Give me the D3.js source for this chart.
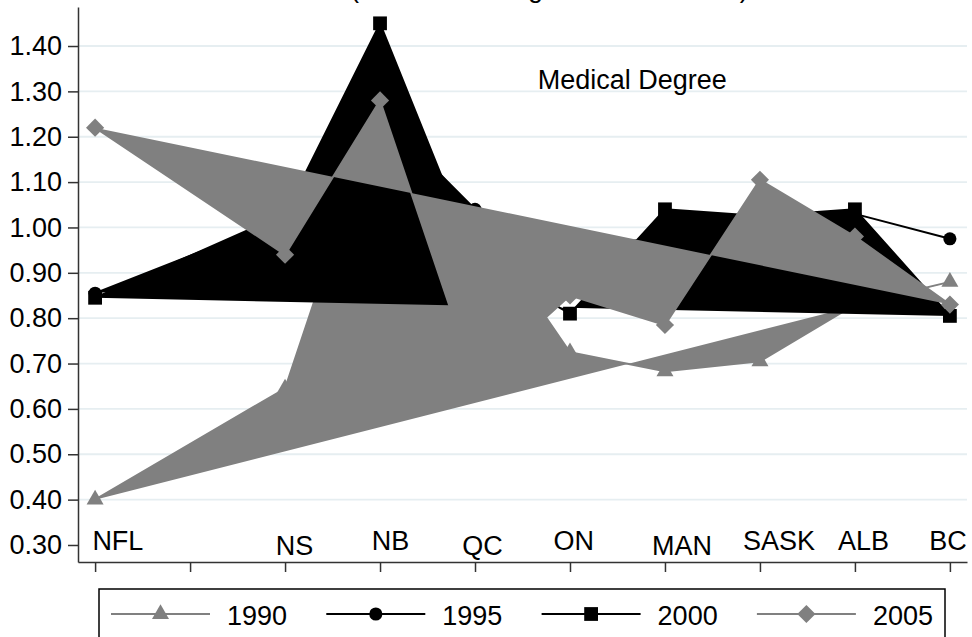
<!DOCTYPE html>
<html>
<head>
<meta charset="utf-8">
<script src="https://cdn.jsdelivr.net/npm/d3@7"></script>
<style>
  body { margin: 0; background: #fff; }
  svg text { font-family: "Liberation Sans", Arial, sans-serif; fill: #000; }
  .axis path, .axis line { stroke: #333; stroke-width: 1.5; }
  .axis text { font-size: 27px; }
  .grid line { stroke: #e6eef1; stroke-width: 1.8; }
</style>
</head>
<body>
<div id="chart"></div>
<script>
// provinces and their slot on the x axis (slot 2 is empty)
var provinces = ["NFL", "NS", "NB", "QC", "ON", "MAN", "SASK", "ALB", "BC"];
var provPos = [1, 3, 4, 5, 6, 7, 8, 9, 10];

// ratios (null = missing)
var v1990 = [0.40, 0.645, 1.27, 1.03, 0.725, 0.683, 0.705, 0.83, 0.88];
var v1995 = [0.855, 1.02, 1.25, 1.04, 0.86, 0.98, null, 1.03, 0.975];
var v2000 = [0.845, 1.03, 1.45, 0.93, 0.81, 1.04, 1.025, 1.04, 0.805];
var v2005 = [1.22, 0.94, 1.28, 0.66, 0.85, 0.785, 1.105, 0.98, 0.83];

var years = ["1990", "1995", "2000", "2005"];
var yTicks = [0.30, 0.40, 0.50, 0.60, 0.70, 0.80, 0.90, 1.00, 1.10, 1.20, 1.30, 1.40];
var xTicks = [1, 2, 3, 4, 5, 6, 7, 8, 9, 10];

// province names are written inside the plot, like text() annotations
var labelX = [1.24, 3.10, 4.11, 5.08, 6.04, 7.18, 8.20, 9.09, 9.98];
var labelY = [0.289, 0.278, 0.289, 0.278, 0.289, 0.278, 0.289, 0.289, 0.289];

var noteText = "Medical Degree";
var noteX = 5.66, noteY = 1.305;
var titleText = "(Ratio of Average to the National)";

var width = 972, height = 637;
var plot = {left: 78, right: 967, top: 7, bottom: 562};

var x = d3.scaleLinear()
    .domain([0.82, 10.18])
    .range([plot.left, plot.right]);

var y = d3.scaleLinear()
    .domain([0.2625, 1.486])
    .range([plot.bottom, plot.top]);

var gray = "#808080";
var seriesList = [
    {name: years[0], values: v1990, color: gray, shape: "triangle"},
    {name: years[1], values: v1995, color: "#000", shape: "circle"},
    {name: years[2], values: v2000, color: "#000", shape: "square"},
    {name: years[3], values: v2005, color: gray, shape: "diamond"}
];

function symbolFor(shape) {
    if (shape == "triangle") return d3.symbol().type(d3.symbolTriangle).size(125)();
    if (shape == "circle") return d3.symbol().type(d3.symbolCircle).size(135)();
    if (shape == "square") return d3.symbol().type(d3.symbolSquare).size(190)();
    return d3.symbol().type(d3.symbolSquare).size(165)(); // rotated below
}

var svg = d3.select("#chart").append("svg")
    .attr("width", width)
    .attr("height", height);

// title sits mostly above the picture, only its tail shows
svg.append("text")
    .attr("x", 350)
    .attr("y", -3)
    .style("font-size", "27px")
    .text(titleText);

// horizontal grid
svg.append("g")
    .attr("class", "grid")
    .selectAll("line")
    .data(yTicks.filter(function(d) { return d > 0.31; }))
    .enter().append("line")
    .attr("x1", plot.left)
    .attr("x2", plot.right)
    .attr("y1", function(d) { return y(d); })
    .attr("y2", function(d) { return y(d); });

// y axis
svg.append("g")
    .attr("class", "axis")
    .attr("transform", "translate(" + plot.left + ",0)")
    .call(d3.axisLeft(y).tickValues(yTicks).tickFormat(d3.format(".2f"))
        .tickSize(10).tickPadding(6).tickSizeOuter(0));

// x axis, ticks only
svg.append("g")
    .attr("class", "axis")
    .attr("transform", "translate(0," + plot.bottom + ")")
    .call(d3.axisBottom(x).tickValues(xTicks).tickFormat("")
        .tickSize(10).tickSizeOuter(0));

// the lines are drawn filled, each sub-path closes on itself
var line = d3.line()
    .defined(function(d) { return d.v != null; })
    .x(function(d) { return x(d.pos); })
    .y(function(d) { return y(d.v); });

seriesList.forEach(function(s) {
    var pts = s.values.map(function(v, i) { return {pos: provPos[i], v: v}; });

    svg.append("path")
        .datum(pts)
        .attr("d", line)
        .attr("fill", s.color)
        .attr("stroke", s.color)
        .attr("stroke-width", 2)
        .attr("stroke-linejoin", "round");

    svg.append("g").selectAll("path")
        .data(pts.filter(function(d) { return d.v != null; }))
        .enter().append("path")
        .attr("d", symbolFor(s.shape))
        .attr("fill", s.color)
        .attr("transform", function(d) {
            return "translate(" + x(d.pos) + "," + y(d.v) + ")" + (s.shape == "diamond" ? " rotate(45)" : "");
        });
});

// province labels
svg.append("g").selectAll("text")
    .data(provinces)
    .enter().append("text")
    .attr("x", function(d, i) { return x(labelX[i]); })
    .attr("y", function(d, i) { return y(labelY[i]); })
    .attr("text-anchor", "middle")
    .style("font-size", "27px")
    .text(function(d) { return d; });

svg.append("text")
    .attr("x", x(noteX))
    .attr("y", y(noteY))
    .style("font-size", "27px")
    .text(noteText);

// legend
var legend = svg.append("g");

legend.append("rect")
    .attr("x", 99)
    .attr("y", 589)
    .attr("width", 846)
    .attr("height", 70)
    .attr("fill", "#fff")
    .attr("stroke", "#000")
    .attr("stroke-width", 1.5);

var item = legend.selectAll("g.item")
    .data(seriesList)
    .enter().append("g")
    .attr("class", "item")
    .attr("transform", function(d, i) { return "translate(" + (111 + i * 215.3) + ",614)"; });

item.append("line")
    .attr("x1", 0)
    .attr("x2", 99)
    .attr("stroke", function(d) { return d.color; })
    .attr("stroke-width", 2);

item.append("path")
    .attr("d", function(d) { return symbolFor(d.shape); })
    .attr("fill", function(d) { return d.color; })
    .attr("transform", function(d) { return "translate(49.5,0)" + (d.shape == "diamond" ? " rotate(45)" : ""); });

item.append("text")
    .attr("x", 116)
    .attr("y", 11)
    .style("font-size", "27px")
    .text(function(d) { return d.name; });
</script>
</body>
</html>
